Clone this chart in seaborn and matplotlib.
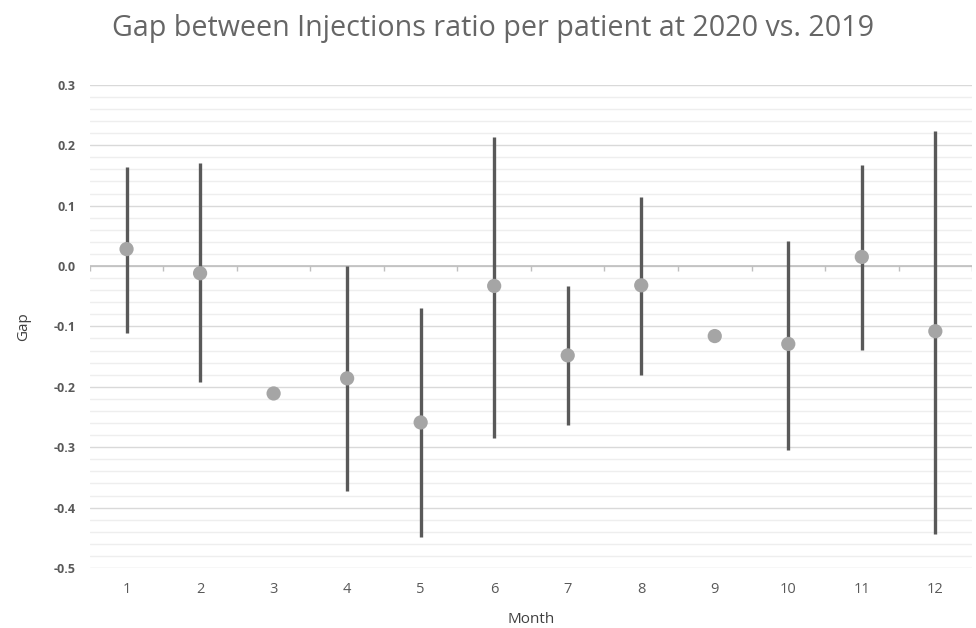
import matplotlib
matplotlib.use("Agg")
import matplotlib.pyplot as plt
import seaborn as sns
import numpy as np
import pandas as pd

# Values
months = [1, 2, 3, 4, 5, 6, 7, 8, 9, 10, 11, 12]
gap = [0.028, -0.012, -0.211, -0.186, -0.259, -0.033, -0.148, -0.032, -0.116, -0.129, 0.015, -0.108]
upper = [0.164, 0.171, None, 0.0, -0.070, 0.214, -0.033, 0.114, None, 0.041, 0.167, 0.224]
lower = [-0.111, -0.192, None, -0.373, -0.448, -0.285, -0.264, -0.181, None, -0.305, -0.139, -0.443]
ytick_vals = [-0.5, -0.4, -0.3, -0.2, -0.1, 0.0, 0.1, 0.2, 0.3]
ytick_labels = ["-0.5", "-0.4", "-0.3", "-0.2", "-0.1", "0.0", "0.1", "0.2", "0.3"]

df = pd.DataFrame({"month": months, "gap": gap, "upper": upper, "lower": lower})

sns.set_style("white")
plt.rcParams["font.family"] = ["Open Sans", "DejaVu Sans"]

fig = plt.figure(figsize=(9.76, 6.28), dpi=100)
ax = fig.add_axes([0.092, 0.0955, 0.904, 0.7695])

# gridlines: major every 0.1, minor every 0.02
for i in range(41):
    y = -0.5 + i * 0.02
    ax.axhline(y, color="#d9d9d9" if i % 5 == 0 else "#eeeeee", lw=1.0, zorder=0)
ax.axhline(0, color="#bfbfbf", lw=1.2, zorder=1)
# category tick marks on the zero line
bounds = np.arange(0.5, 12.51, 1)
ax.vlines(bounds, 0, -0.008, color="#bfbfbf", lw=1.0, zorder=1)

# range lines
rng = df.dropna()
ax.vlines(rng["month"], rng["lower"], rng["upper"], color="#595959", lw=2.4, zorder=2)

# points
sns.scatterplot(data=df, x="month", y="gap", ax=ax, color="#a5a5a5", s=105,
                edgecolor="none", zorder=3, legend=False)

ax.set_xlim(0.5, 12.5)
ax.set_ylim(-0.5, 0.3)
ax.set_xticks(months)
ax.set_xticklabels([str(m) for m in months], color="#595959", fontsize=10.5)
ax.set_yticks(ytick_vals)
ax.set_yticklabels(ytick_labels, color="#595959", fontsize=9, fontweight="bold")
ax.tick_params(axis="both", length=0, pad=10)
for s in ax.spines.values():
    s.set_visible(False)

ax.set_xlabel("Month", color="#404040", fontsize=11, labelpad=11)
ax.set_ylabel("Gap", color="#404040", fontsize=11, labelpad=16)

fig.suptitle("Gap between Injections ratio per patient at 2020 vs. 2019",
             color="#666666", fontsize=20.6, x=0.505, y=0.978)

fig.savefig("out.png", dpi=100)
